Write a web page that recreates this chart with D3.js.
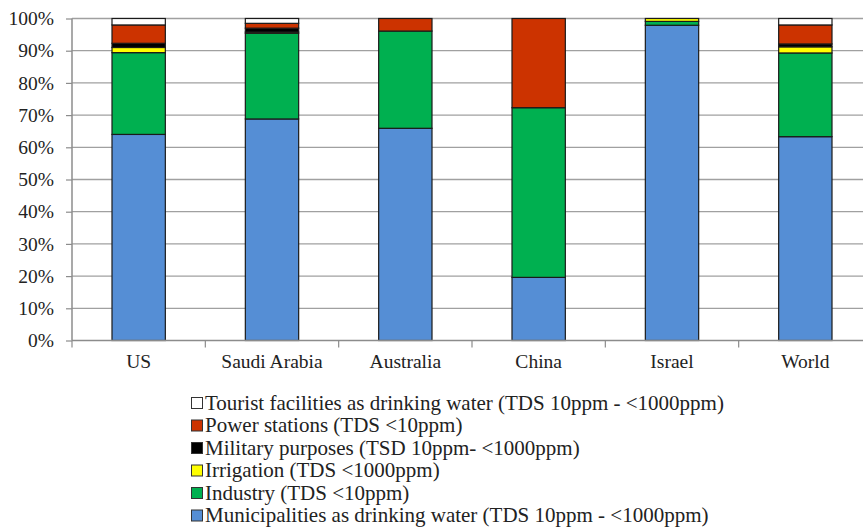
<!DOCTYPE html>
<html>
<head>
<meta charset="utf-8">
<script src="https://cdn.jsdelivr.net/npm/d3@7/dist/d3.min.js"></script>
<style>
  html, body { margin: 0; padding: 0; background: #fff; }
  svg { display: block; }
</style>
</head>
<body>
<svg id="chart" width="863" height="529"></svg>
<script>
// Categories (countries)
const countries = ["US", "Saudi Arabia", "Australia", "China", "Israel", "World"];

// Share of desalinated water use by sector, percent (stack bottom to top)
const municipalities = [64.0, 68.8, 65.9, 19.6, 97.9, 63.3];
const industry       = [25.4, 26.6, 30.2, 52.7, 1.2, 26.0];
const irrigation     = [1.6, 0.4, 0, 0, 0.9, 1.9];
const military       = [1.3, 1.2, 0, 0, 0, 0.9];
const powerStations  = [5.7, 1.5, 3.9, 27.7, 0, 5.9];
const tourist        = [2.0, 1.5, 0, 0, 0, 2.0];

// Series names (bottom of stack first)
const seriesNames = [
  "Municipalities as drinking water (TDS 10ppm - <1000ppm)",
  "Industry (TDS <10ppm)",
  "Irrigation (TDS <1000ppm)",
  "Military purposes (TSD 10ppm- <1000ppm)",
  "Power stations (TDS <10ppm)",
  "Tourist facilities as drinking water (TDS 10ppm - <1000ppm)"
];
const seriesColors = ["#558ED5", "#00B050", "#FFFF00", "#000000", "#CC3300", "#FFFFFF"];

const yTicks = [0, 10, 20, 30, 40, 50, 60, 70, 80, 90, 100];

const seriesValues = [municipalities, industry, irrigation, military, powerStations, tourist];
const keys = seriesNames.map((d, i) => "s" + i);
const table = countries.map((c, ci) => {
  const row = { country: c };
  keys.forEach((k, si) => { row[k] = seriesValues[si][ci]; });
  return row;
});

const svg = d3.select("#chart");
const plotLeft = 72, plotRight = 872, plotTop = 18.5, plotBottom = 340.5;
const serif = '"Liberation Serif"';

const x = d3.scaleBand().domain(countries).range([plotLeft, plotRight])
  .paddingInner(0.6).paddingOuter(0.3);
const y = d3.scaleLinear().domain([0, 100]).range([plotBottom, plotTop]);

// Horizontal gridlines
svg.append("g").selectAll("line").data(yTicks.filter(t => t > 0)).join("line")
  .attr("x1", plotLeft).attr("x2", plotRight)
  .attr("y1", d => y(d)).attr("y2", d => y(d))
  .attr("stroke", "#a0a0a0").attr("stroke-width", 1.3);

// Stacked bars
const stacked = d3.stack().keys(keys)(table);
svg.append("g").selectAll("g").data(stacked).join("g")
  .attr("fill", (d, i) => seriesColors[i])
  .selectAll("rect").data(d => d.filter(p => p[1] - p[0] > 0)).join("rect")
  .attr("x", d => x(d.data.country))
  .attr("width", x.bandwidth())
  .attr("y", d => y(d[1]))
  .attr("height", d => y(d[0]) - y(d[1]))
  .attr("stroke", "#1a1a1a").attr("stroke-width", 1.2);

// Y axis
const yAxis = d3.axisLeft(y).tickValues(yTicks).tickFormat(d => d + "%").tickSize(6).tickPadding(12);
const yg = svg.append("g").attr("transform", `translate(${plotLeft},0)`).call(yAxis);
yg.select(".domain").attr("stroke", "#8c8c8c").attr("stroke-width", 1.5).attr("d", `M0,${plotTop}V${plotBottom}`);
yg.selectAll(".tick line").attr("stroke", "#8c8c8c").attr("stroke-width", 1.2);
yg.selectAll(".tick text").style("font-family", serif).style("font-size", "19.5px").attr("fill", "#222");

// X axis
const xAxis = d3.axisBottom(x).tickSize(0).tickPadding(14);
const xg = svg.append("g").attr("transform", `translate(0,${plotBottom})`).call(xAxis);
xg.select(".domain").attr("stroke", "#8c8c8c").attr("stroke-width", 1.5).attr("d", `M${plotLeft},0H${plotRight}`);
xg.selectAll(".tick text").style("font-family", serif).style("font-size", "19.5px").attr("fill", "#222");
// Category separator ticks
const step = x.step();
const boundaries = d3.range(countries.length + 1).map(i => plotLeft + i * step);
xg.append("g").selectAll("line").data(boundaries).join("line")
  .attr("x1", d => d).attr("x2", d => d).attr("y1", 0).attr("y2", 7)
  .attr("stroke", "#8c8c8c").attr("stroke-width", 1.2);

// Legend, top series first
const legendOrder = d3.range(seriesNames.length).reverse();
const lg = svg.append("g").attr("transform", "translate(191,403)");
const item = lg.selectAll("g").data(legendOrder).join("g")
  .attr("transform", (d, i) => `translate(0,${i * 22.5})`);
item.append("rect").attr("x", 0.5).attr("y", -5.5).attr("width", 11).attr("height", 11)
  .attr("fill", d => seriesColors[d]).attr("stroke", "#333").attr("stroke-width", 1);
item.append("text").attr("x", 14).attr("y", 0).attr("dy", "0.33em")
  .style("font-family", serif).style("font-size", "21px").attr("fill", "#222")
  .text(d => seriesNames[d]);
</script>
</body>
</html>
